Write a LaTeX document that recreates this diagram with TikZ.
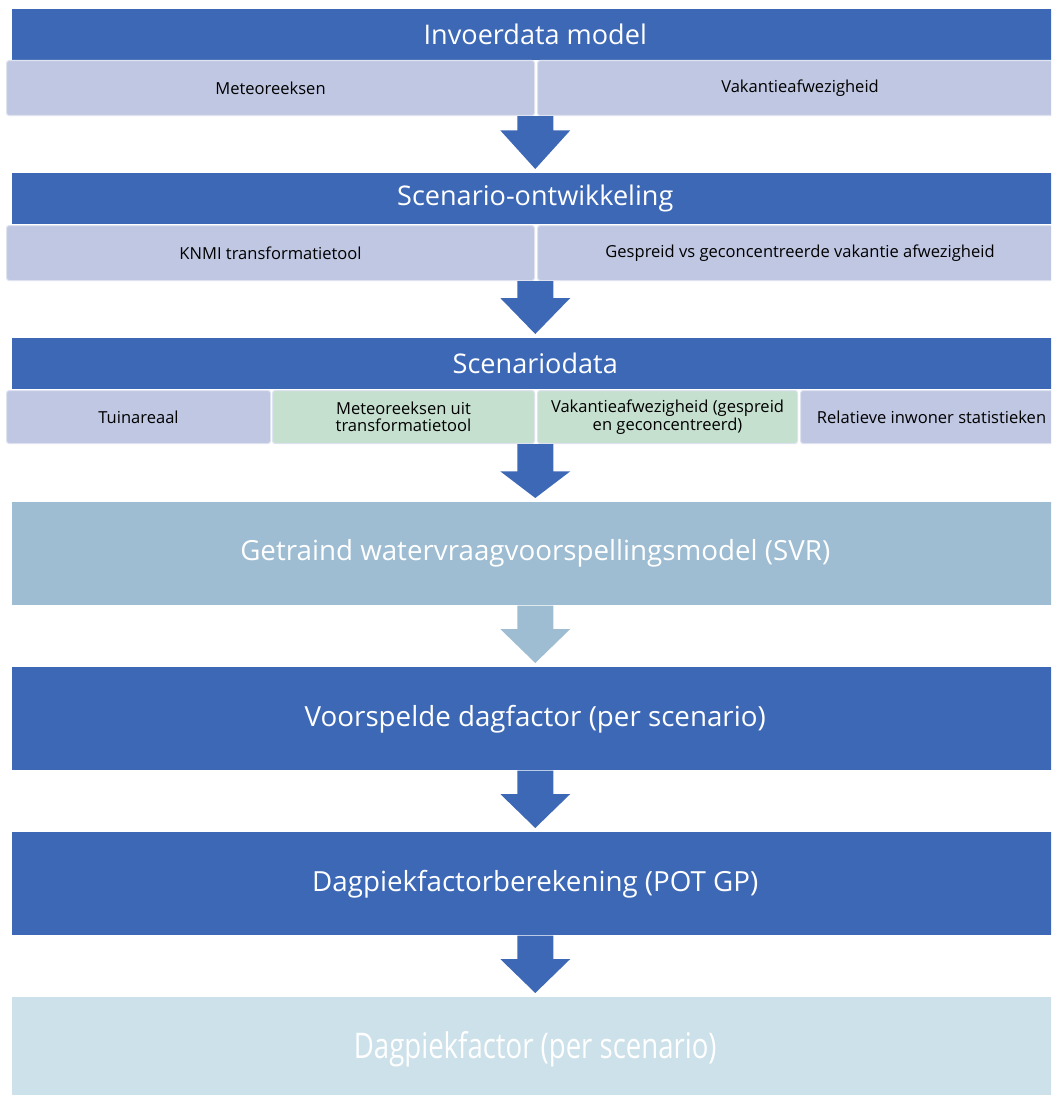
\documentclass[tikz,border=0pt]{standalone}
\usepackage{fontspec}
\setmainfont{Open Sans}
\usepackage{tikz}
\usetikzlibrary{calc}

\definecolor{hdrblue}{RGB}{61,104,182}
\definecolor{sublav}{RGB}{192,199,226}
\definecolor{subgreen}{RGB}{198,224,208}
\definecolor{svrblue}{RGB}{158,189,210}
\definecolor{endblue}{RGB}{205,225,234}

% block arrow: source node, target node, colour, head length
\newcommand{\flowarrow}[4]{%
 \fill[fill=#3] let \p1=(#1.south), \p2=(#2.north) in
  (\x2-13.5pt,\y1) -- (\x2+13.5pt,\y1) -- (\x2+13.5pt,\y2+3pt+#4) -- (\x2+26.25pt,\y2+3pt+#4)
  -- (\x2,\y2+3pt) -- (\x2-26.25pt,\y2+3pt+#4) -- (\x2-13.5pt,\y2+3pt+#4) -- cycle;}

\begin{document}
\begin{tikzpicture}[x=0.75pt,y=-0.75pt,
 hdr/.style={fill=hdrblue,text=white,anchor=north west,minimum width=784.5pt,minimum height=38.25pt,inner sep=0pt,font=\fontsize{20.3}{24}\selectfont},
 subbox/.style={fill=sublav,draw=white!50!sublav,line width=0.8pt,rounded corners=2pt,anchor=north west,minimum height=41.25pt,inner sep=0pt,align=center,font=\fontsize{12.4}{13}\selectfont},
 bigbox/.style={anchor=north west,minimum width=784.5pt,minimum height=77.25pt,inner sep=0pt,text=white,font=\fontsize{20.8}{24}\selectfont}]
\useasboundingbox (0,0) rectangle (1051,1095);
\clip (0,0) rectangle (1051,1095);

\node[hdr] (invoer) at (12,9) {Invoerdata model};
\foreach \name/\x/\bw/\txt in {meteo/6/396pt/Meteoreeksen,vakantie/537/393.75pt/Vakantieafwezigheid}
 \node[subbox,minimum width=\bw] (\name) at (\x,60) {\txt};

\node[hdr] (scenario) at (12,173) {Scenario-ontwikkeling};
\foreach \name/\x/\bw/\txt in {knmi/6/396pt/KNMI transformatietool,gespreid/537/393.75pt/Gespreid vs geconcentreerde vakantie afwezigheid}
 \node[subbox,minimum width=\bw] (\name) at (\x,225) {\txt};

\node[hdr] (scendata) at (12,338) {Scenariodata};
\foreach \name/\x/\bw/\col/\txt in {tuin/6/198pt/sublav/Tuinareaal,
  meteouit/272/196.5pt/subgreen/{Meteoreeksen uit\\transformatietool},
  vakgc/537/195pt/subgreen/{Vakantieafwezigheid (gespreid\\en geconcentreerd)},
  inwoner/800/196.5pt/sublav/Relatieve inwoner statistieken}
 \node[subbox,minimum width=\bw,minimum height=39.75pt,fill=\col] (\name) at (\x,390) {\txt};

\node[bigbox,fill=svrblue] (svr) at (12,502) {Getraind watervraagvoorspellingsmodel (SVR)};
\node[bigbox,fill=hdrblue] (dagfactor) at (12,667) {Voorspelde dagfactor (per scenario)};
\node[bigbox,fill=hdrblue] (potgp) at (12,832) {Dagpiekfactorberekening (POT GP)};
\node[bigbox,fill=endblue] (piek) at (12,997) {\scalebox{0.78}[1]{\fontsize{26.5}{30}\selectfont Dagpiekfactor (per scenario)}};

\foreach \from/\to/\col/\head in {meteo/scenario/hdrblue/29pt,knmi/scendata/hdrblue/27pt,tuin/svr/hdrblue/20pt,
  svr/dagfactor/svrblue/25.5pt,dagfactor/potgp/hdrblue/25.5pt,potgp/piek/hdrblue/25.5pt}
 \flowarrow{\from}{\to}{\col}{\head};

\end{tikzpicture}
\end{document}
